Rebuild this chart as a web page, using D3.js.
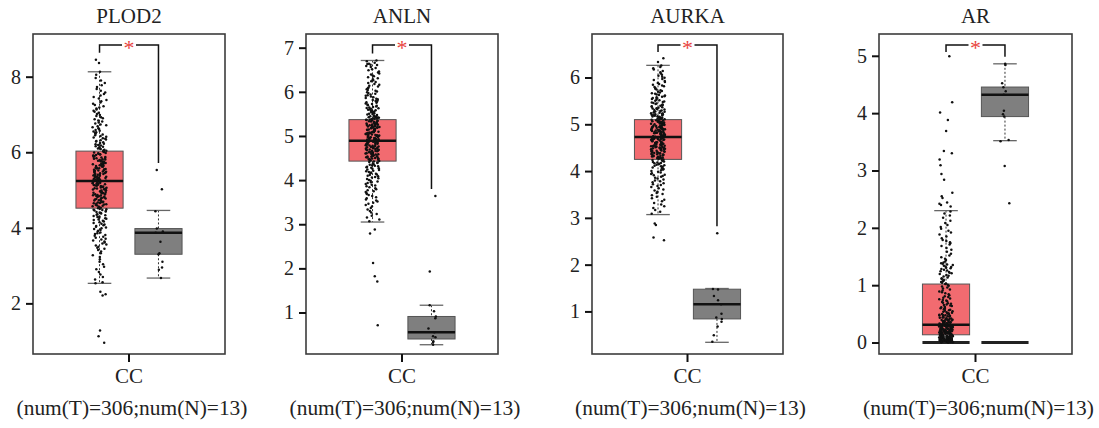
<!DOCTYPE html>
<html>
<head>
<meta charset="utf-8">
<script src="https://cdn.jsdelivr.net/npm/d3@7"></script>
<style>
  body { margin: 0; background: #fff; }
  svg { display: block; }
</style>
</head>
<body>
<div id="chart"></div>
<script>
// ---- data ----
const genes = ["PLOD2", "ANLN", "AURKA", "AR"];
const groupLabel = "CC";
const sampleNote = "(num(T)=306;num(N)=13)";

const yDomains = [[0.66, 9.13], [0.06, 7.31], [0.09, 6.93], [-0.2, 5.38]];
const yTicks = [[2, 4, 6, 8], [1, 2, 3, 4, 5, 6, 7], [1, 2, 3, 4, 5, 6], [0, 1, 2, 3, 4, 5]];

// [lower whisker, q1, median, q3, upper whisker]
const tumorBox = [
  [2.53, 4.52, 5.24, 6.03, 8.13],
  [3.05, 4.43, 4.89, 5.37, 6.71],
  [3.07, 4.25, 4.73, 5.10, 6.26],
  [0.0, 0.135, 0.31, 1.02, 2.30]
];
const normalBox = [
  [2.67, 3.30, 3.87, 3.98, 4.46],
  [0.27, 0.40, 0.55, 0.91, 1.165],
  [0.34, 0.84, 1.155, 1.475, 1.49],
  [3.52, 3.94, 4.32, 4.455, 4.86]
];

const normalPoints = [
  [5.53, 5.02, 4.44, 3.98, 3.90, 3.87, 3.63, 3.33, 3.30, 3.10, 2.95, 2.89, 2.67],
  [3.64, 1.93, 1.165, 1.03, 0.91, 0.87, 0.64, 0.55, 0.46, 0.44, 0.35, 0.32, 0.27],
  [2.67, 1.48, 1.47, 1.33, 1.24, 1.155, 0.95, 0.87, 0.84, 0.78, 0.68, 0.49, 0.35],
  [4.86, 4.84, 4.52, 4.45, 4.38, 4.32, 4.04, 3.98, 3.94, 3.53, 3.51, 3.08, 2.43]
];

// tumour samples: counts per value bin, plus single values outside the bins
const tumorBinStart = [2.6, 3.05, 3.07, 0.0];
const tumorBinStep = [0.2, 0.2, 0.2, 0.1];
const tumorBinCounts = [
  [3, 3, 3, 4, 7, 8, 9, 10, 13, 16, 19, 21, 22, 23, 21, 20, 18, 13, 11, 10, 8, 7, 7, 6, 5, 4, 3],
  [5, 6, 8, 9, 11, 14, 17, 27, 31, 33, 32, 28, 20, 15, 12, 10, 9, 8],
  [5, 6, 8, 10, 13, 20, 32, 37, 39, 38, 28, 20, 16, 12, 9, 7],
  [53, 44, 42, 28, 18, 12, 10, 8, 6, 6, 8, 7, 8, 9, 4, 3, 3, 5, 3, 3, 3, 2, 3]
];
const tumorExtra = [
  [8.45, 8.36, 8.13, 8.05, 2.56, 2.53, 2.31, 2.24, 2.21, 1.28, 1.13, 0.96],
  [6.71, 6.69, 6.66, 6.63, 6.61, 2.88, 2.79, 2.12, 1.82, 1.70, 0.71],
  [6.41, 6.33, 2.88, 2.85, 2.58, 2.52],
  [4.99, 4.19, 4.01, 3.88, 3.69, 3.34, 3.30, 3.19, 3.09, 2.94, 2.84, 2.61, 2.55, 2.52, 2.44, 2.42, 2.40, 2.37]
];
// panels with the heavy bar drawn at zero under both groups
const zeroBar = [null, null, null, 0];

// ---- layout ----
const width = 1099, height = 428;
const frames = [[33, 225], [306, 498], [592, 783], [879, 1072]];
const frameTop = 34, frameBottom = 354;
const font = "'Liberation Serif', 'Times New Roman', serif";

const colors = { T: "#f26b70", N: "#7f7f7f" };

const svg = d3.select("#chart").append("svg")
  .attr("width", width)
  .attr("height", height)
  .style("font-family", font);

function hash(i) {
  const s = Math.sin(i * 12.9898 + 78.233) * 43758.5453;
  return s - Math.floor(s);
}

genes.forEach((gene, p) => {
  const [x0, x1] = frames[p];
  const cx = (x0 + x1) / 2;
  const g = svg.append("g").attr("class", "panel");

  const y = d3.scaleLinear().domain(yDomains[p]).range([frameBottom, frameTop]);
  const x = d3.scaleBand().domain(["T", "N"])
    .range([cx - 56, cx + 56])
    .paddingInner(0.2)
    .paddingOuter(0.05);
  const bw = x.bandwidth();

  // tumour values from bins
  const tVals = [];
  tumorBinCounts[p].forEach((n, b) => {
    const s = tumorBinStart[p] + b * tumorBinStep[p];
    for (let k = 0; k < n; k++) tVals.push(s + tumorBinStep[p] * (k + 0.5) / n);
  });
  tumorExtra[p].forEach(v => tVals.push(v));

  // frame
  g.append("rect")
    .attr("x", x0).attr("y", frameTop)
    .attr("width", x1 - x0).attr("height", frameBottom - frameTop)
    .attr("fill", "none")
    .attr("stroke", "#3c3c3c")
    .attr("stroke-width", 1.6);

  // y axis
  const ax = g.append("g")
    .attr("transform", `translate(${x0},0)`)
    .call(d3.axisLeft(y).tickValues(yTicks[p]).tickSize(7).tickPadding(5).tickFormat(d3.format("d")));
  ax.select(".domain").remove();
  ax.selectAll(".tick line").attr("stroke", "#111").attr("stroke-width", 2);
  ax.selectAll(".tick text")
    .attr("fill", "#222")
    .style("font-family", font)
    .style("font-size", "20px");

  // x tick + labels
  g.append("line")
    .attr("x1", cx).attr("x2", cx)
    .attr("y1", frameBottom).attr("y2", frameBottom + 8)
    .attr("stroke", "#111").attr("stroke-width", 2);
  g.append("text")
    .attr("x", cx).attr("y", 383)
    .attr("text-anchor", "middle")
    .attr("fill", "#222")
    .style("font-size", "21px")
    .text(groupLabel);
  g.append("text")
    .attr("x", cx + 3).attr("y", 415)
    .attr("text-anchor", "middle")
    .attr("fill", "#222")
    .style("font-size", "21.4px")
    .text(sampleNote);
  g.append("text")
    .attr("x", cx).attr("y", 23)
    .attr("text-anchor", "middle")
    .attr("fill", "#222")
    .style("font-size", "21px")
    .text(gene);

  // boxes
  const groups = [
    { key: "T", stats: tumorBox[p], vals: tVals, jit: 7 },
    { key: "N", stats: normalBox[p], vals: normalPoints[p], jit: 5 }
  ];

  groups.forEach((gr, gi) => {
    const [lw, q1, med, q3, uw] = gr.stats;
    const bx = x(gr.key), mid = bx + bw / 2;

    g.append("rect")
      .attr("x", bx).attr("y", y(q3))
      .attr("width", bw).attr("height", y(q1) - y(q3))
      .attr("fill", colors[gr.key])
      .attr("stroke", "#555").attr("stroke-width", 1);

    [[uw, q3], [q1, lw]].forEach(([a, b]) => {
      g.append("line")
        .attr("x1", mid).attr("x2", mid)
        .attr("y1", y(a)).attr("y2", y(b))
        .attr("stroke", "#333").attr("stroke-width", 1)
        .attr("stroke-dasharray", "2,2");
    });
    [lw, uw].forEach(v => {
      g.append("line")
        .attr("x1", mid - bw / 4).attr("x2", mid + bw / 4)
        .attr("y1", y(v)).attr("y2", y(v))
        .attr("stroke", "#666").attr("stroke-width", 1.3);
    });

    g.append("line")
      .attr("x1", bx).attr("x2", bx + bw)
      .attr("y1", y(med)).attr("y2", y(med))
      .attr("stroke", "#111").attr("stroke-width", 2.5);

    if (zeroBar[p] !== null) {
      g.append("line")
        .attr("x1", bx).attr("x2", bx + bw)
        .attr("y1", y(zeroBar[p])).attr("y2", y(zeroBar[p]))
        .attr("stroke", "#222").attr("stroke-width", 3);
    }

    g.append("g").selectAll("circle")
      .data(gr.vals)
      .join("circle")
      .attr("cx", (d, i) => mid + (hash(i + 1000 * p + 500 * gi) - 0.5) * 2 * gr.jit)
      .attr("cy", d => y(d))
      .attr("r", 1.25)
      .attr("fill", "#111");
  });

  // significance bracket
  const tMax = d3.max(tVals), nMax = d3.max(normalPoints[p]);
  const by = 45;
  const lx = x("T") + bw / 2, rx = x("N") + bw / 2;
  const ly = Math.max(by + 7, y(tMax) - 7);
  const ry = Math.max(by + 7, y(nMax) - 7);
  g.append("path")
    .attr("d", `M${lx},${ly}V${by}H${cx - 7}M${cx + 7},${by}H${rx}V${ry}`)
    .attr("fill", "none")
    .attr("stroke", "#111")
    .attr("stroke-width", 1.5);
  g.append("text")
    .attr("x", cx).attr("y", by + 10)
    .attr("text-anchor", "middle")
    .attr("fill", "#e8433d")
    .style("font-size", "22px")
    .text("*");
});
</script>
</body>
</html>
